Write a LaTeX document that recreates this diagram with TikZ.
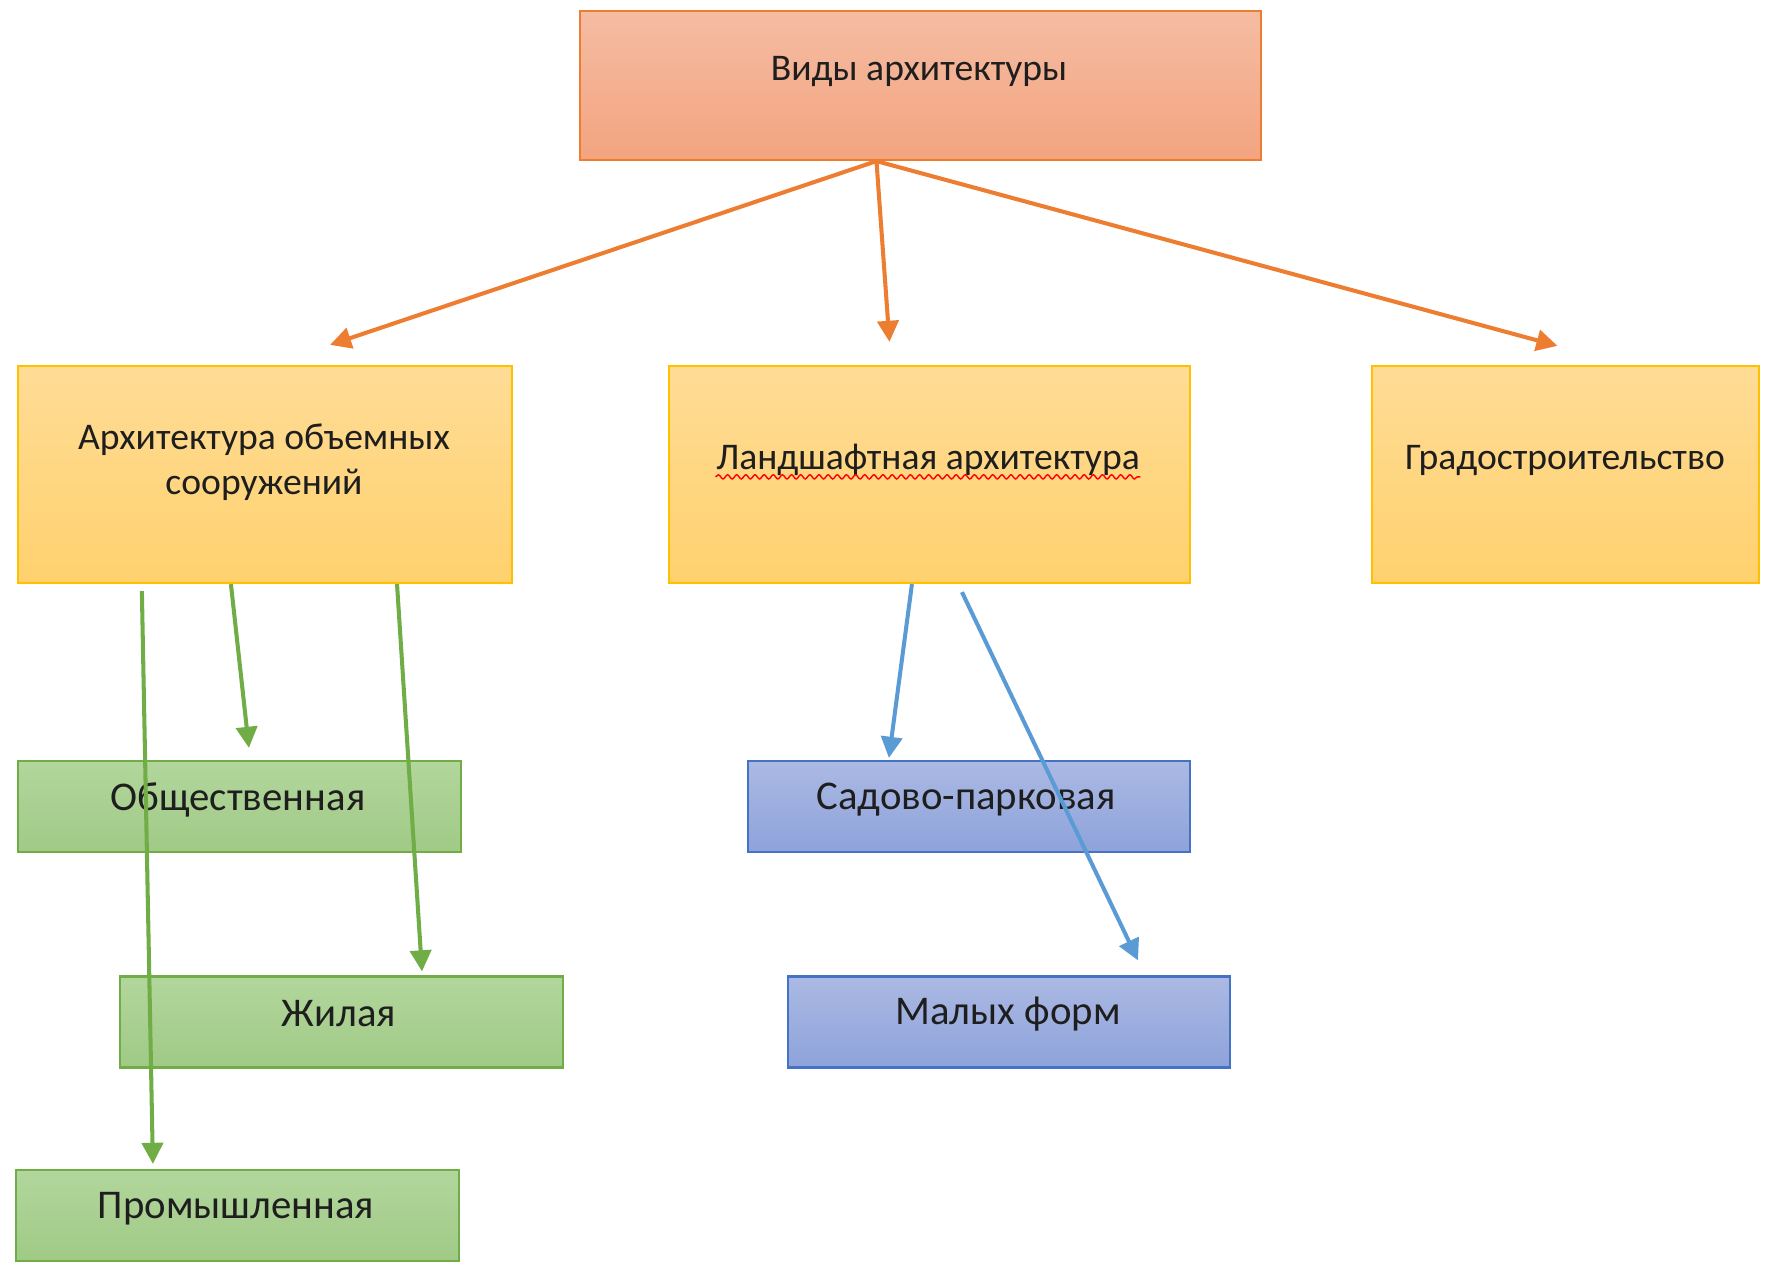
\documentclass[tikz,border=0pt]{standalone}
\usepackage{fontspec}
\setmainfont{Carlito}
\usetikzlibrary{arrows.meta,calc,decorations.pathmorphing}
\definecolor{vidtop}{HTML}{F5BCA3}
\definecolor{vidbot}{HTML}{F3A47F}
\definecolor{vidline}{HTML}{ED7D31}
\definecolor{yeltop}{HTML}{FFDC96}
\definecolor{yelbot}{HTML}{FFD16E}
\definecolor{yelline}{HTML}{FFC000}
\definecolor{grntop}{HTML}{B2D69C}
\definecolor{grnbot}{HTML}{A0CA86}
\definecolor{grnline}{HTML}{70AD47}
\definecolor{blutop}{HTML}{ABB9E3}
\definecolor{blubot}{HTML}{8EA3DB}
\definecolor{bluline}{HTML}{4472C4}
\definecolor{bluarrow}{HTML}{5B9BD5}
\definecolor{txtgray}{HTML}{1E1E1E}

\begin{document}
\begin{tikzpicture}[x=0.01cm, y=-0.01cm, >={Triangle[length=6pt,width=6pt]}]
\tikzstyle{box}=[inner sep=0, line width=0.6pt]
\tikzstyle{vidbox}=[box, draw=vidline, top color=vidtop, bottom color=vidbot, minimum width=6.81cm, minimum height=1.49cm]
\tikzstyle{yelbox}=[box, draw=yelline, top color=yeltop, bottom color=yelbot, minimum height=2.17cm]
\tikzstyle{grnbox}=[box, draw=grnline, top color=grntop, bottom color=grnbot, minimum width=4.43cm, minimum height=0.91cm]
\tikzstyle{blubox}=[box, draw=bluline, top color=blutop, bottom color=blubot, minimum width=4.42cm, minimum height=0.91cm]
\tikzstyle{txt}=[inner sep=0, text=txtgray, align=center, font=\fontsize{10.7}{12.8}\selectfont]
\tikzstyle{smalltxt}=[txt, font=\fontsize{11.6}{14}\selectfont]
\tikzstyle{oarrow}=[->, draw=vidline, line width=1.15pt]
\tikzstyle{garrow}=[->, draw=grnline, line width=1.15pt]
\tikzstyle{barrow}=[->, draw=bluarrow, line width=1.15pt]
\useasboundingbox (0,0) rectangle (1768,1269);

% boxes
\node[vidbox]                      (vid)   at (920.5,85.5)  {};
\node[yelbox, minimum width=4.94cm] (arch)  at (265,474.5)   {};
\node[yelbox, minimum width=5.21cm] (land)  at (929.5,474.5) {};
\node[yelbox, minimum width=3.87cm] (grad)  at (1565.5,474.5) {};
\node[grnbox]                      (obsh)  at (239.5,806.5) {};
\node[grnbox]                      (zhil)  at (341.5,1022)  {};
\node[grnbox]                      (prom)  at (237.5,1215.5) {};
\node[blubox]                      (sad)   at (969,806.5)   {};
\node[blubox]                      (mal)   at (1009,1022)   {};

% texts
\node[txt]      (vid-t)  at (919,71.5)  {Виды архитектуры};
\node[txt]      (arch-t) at (264,462)   {Архитектура объемных\\сооружений};
\node[txt]      (land-t) at (928,459.5) {Ландшафтная архитектура};
\node[txt]      (grad-t) at (1565,460.5) {Градостроительство};
\node[smalltxt] (obsh-t) at (238,799.5) {Общественная};
\node[smalltxt] (zhil-t) at (339,1013.5) {Жилая};
\node[smalltxt] (prom-t) at (236,1209)  {Промышленная};
\node[smalltxt] (sad-t)  at (966,799.5) {Садово-парковая};
\node[smalltxt] (mal-t)  at (1008,1014) {Малых форм};

\draw[red, line width=0.4pt, decorate, decoration={snake, amplitude=0.6pt, segment length=2.6pt}]
  ([yshift=-2.2pt]land-t.base west) -- ([yshift=-2.2pt]land-t.base east);

\path
([xshift=-0.44cm]vid.south) edge[oarrow] ([xshift=0.65cm,yshift=0.2cm]arch.north)
([xshift=-0.44cm]vid.south) edge[oarrow] ([xshift=-0.40cm,yshift=0.23cm]land.north)
([xshift=-0.44cm]vid.south) edge[oarrow] ([xshift=-0.08cm,yshift=0.19cm]grad.north)
([xshift=1.25cm,yshift=-0.07cm]arch.south west) edge[garrow] ([xshift=1.38cm,yshift=0.05cm]prom.north west)
([xshift=2.14cm]arch.south west)                edge[garrow] ([xshift=2.32cm,yshift=0.12cm]obsh.north west)
([xshift=3.80cm]arch.south west)                edge[garrow] ([xshift=3.03cm,yshift=0.04cm]zhil.north west)
([xshift=2.44cm]land.south west)                edge[barrow] ([xshift=1.42cm,yshift=0.02cm]sad.north west)
([xshift=2.94cm,yshift=-0.08cm]land.south west) edge[barrow] ([xshift=3.51cm,yshift=0.15cm]mal.north west);
\end{tikzpicture}
\end{document}
